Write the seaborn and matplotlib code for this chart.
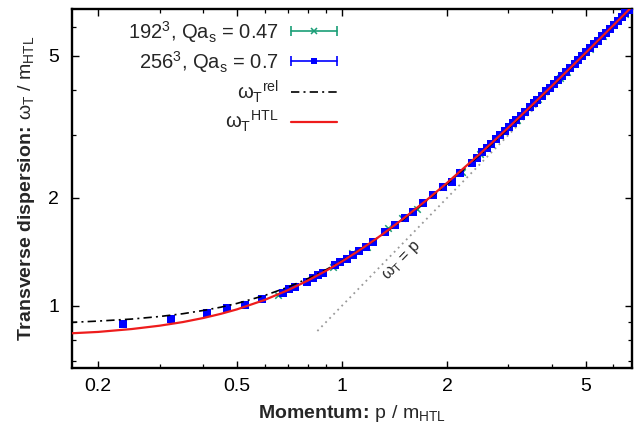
import matplotlib
matplotlib.use("Agg")
import matplotlib.pyplot as plt
import pandas as pd
import seaborn as sns
from matplotlib.lines import Line2D
from matplotlib.legend_handler import HandlerLine2D

# ---------------- data ----------------
p_256 = [0.235, 0.323, 0.411, 0.469, 0.527, 0.589, 0.679, 0.705, 0.734, 0.793,
         0.825, 0.855, 0.884, 0.955, 0.987, 1.032, 1.078, 1.12, 1.17, 1.23,
         1.328, 1.419, 1.516, 1.601, 1.711, 1.827, 1.951, 2.063, 2.179, 2.354,
         2.433, 2.52, 2.60, 2.67, 2.76, 2.84, 2.93, 3.01, 3.09, 3.16, 3.26,
         3.35, 3.45, 3.55, 3.63, 3.74, 3.85, 3.94, 4.05, 4.17, 4.28, 4.40,
         4.51, 4.64, 4.76, 4.88, 5.02, 5.15, 5.29, 5.42, 5.57, 5.71, 5.86,
         6.02, 6.17, 6.33, 6.49, 6.64]
w_256 = [0.887, 0.916, 0.954, 0.983, 1.005, 1.042, 1.083, 1.111, 1.128, 1.163,
         1.193, 1.218, 1.236, 1.299, 1.327, 1.348, 1.386, 1.420, 1.455, 1.504,
         1.603, 1.680, 1.754, 1.830, 1.932, 2.038, 2.150, 2.221, 2.344, 2.499,
         2.581, 2.691, 2.766, 2.832, 2.918, 2.994, 3.080, 3.157, 3.233, 3.300,
         3.397, 3.483, 3.580, 3.677, 3.755, 3.861, 3.968, 4.056, 4.163, 4.280,
         4.387, 4.505, 4.612, 4.740, 4.858, 4.975, 5.113, 5.240, 5.378, 5.506,
         5.654, 5.792, 5.940, 6.098, 6.246, 6.405, 6.563, 6.711]

p_192 = [0.656, 0.944, 1.066, 1.178, 1.355, 1.486, 1.64, 1.948, 2.208, 2.486,
         3.168, 3.646, 4.216, 4.406, 5.137, 5.598, 6.47]
w_192 = [1.071, 1.285, 1.401, 1.462, 1.645, 1.758, 1.862, 2.146, 2.363, 2.660,
         3.310, 3.770, 4.320, 4.510, 5.230, 5.680, 6.540]

p_htl = [0.165, 0.2, 0.25, 0.3, 0.35, 0.4, 0.45, 0.5, 0.6, 0.7, 0.8, 0.9, 1.0,
         1.1, 1.2, 1.3, 1.5, 1.75, 2.0, 2.5, 3.0, 3.5, 4.0, 5.0, 6.0, 7.0]
w_htl = [0.837, 0.845, 0.861, 0.8795, 0.9004, 0.924, 0.9495, 0.977, 1.038,
         1.1055, 1.177, 1.252, 1.330, 1.411, 1.494, 1.578, 1.752, 1.975, 2.204,
         2.671, 3.147, 3.629, 4.115, 5.093, 6.078, 7.067]

p_rel = [0.165, 0.2, 0.25, 0.3, 0.35, 0.4, 0.45, 0.5, 0.6, 0.7, 0.8, 0.9, 1.0,
         1.2, 1.5, 2.0, 2.5, 3.0, 4.0, 5.0, 6.0, 7.0]
w_rel = [0.898, 0.906, 0.918, 0.933, 0.950, 0.970, 0.991, 1.015, 1.068, 1.127,
         1.192, 1.261, 1.334, 1.490, 1.741, 2.186, 2.651, 3.127, 4.096, 5.077,
         6.065, 7.055]

p_free = [0.85, 7.0]
w_free = [0.85, 7.0]

x_major = [0.2, 0.5, 1, 2, 5]
x_major_labels = ["0.2", "0.5", "1", "2", "5"]
x_minor = [0.3, 0.4, 0.6, 0.7, 0.8, 0.9, 3, 4, 6]
y_major = [1, 2, 5]
y_major_labels = ["1", "2", "5"]
y_minor = [0.7, 0.8, 0.9, 3, 4, 6]

# ---------------- style ----------------
sns.set_theme(style="ticks")
plt.rcParams.update({
    "font.family": ["Liberation Sans", "DejaVu Sans"],
    "mathtext.fontset": "custom",
    "mathtext.rm": "Liberation Sans",
    "mathtext.bf": "Liberation Sans:bold",
    "mathtext.it": "Liberation Sans:italic",
    "mathtext.sf": "Liberation Sans",
})

green = "#1a9e77"
blue = "#0000ff"
red = "#ee1c1c"

fig = plt.figure(figsize=(6.34, 4.32), dpi=100)
ax = fig.add_axes([71.7 / 634, (432 - 368) / 432, (632 - 71.7) / 634, (368 - 9) / 432])
ax.set_xscale("log")
ax.set_yscale("log")

df192 = pd.DataFrame({"p": p_192, "w": w_192})
df256 = pd.DataFrame({"p": p_256, "w": w_256})
dfhtl = pd.DataFrame({"p": p_htl, "w": w_htl})
dfrel = pd.DataFrame({"p": p_rel, "w": w_rel})
dffree = pd.DataFrame({"p": p_free, "w": w_free})

sns.lineplot(data=dffree, x="p", y="w", ax=ax, color="#999999", lw=1.3,
             linestyle=(0, (1.0, 2.2)), sort=False, estimator=None, zorder=1)
sns.scatterplot(data=df192, x="p", y="w", ax=ax, color=green, marker="x",
                s=22, linewidth=1.1, zorder=2)
sns.scatterplot(data=df256, x="p", y="w", ax=ax, color=blue, marker="s",
                s=26, linewidth=0, zorder=3)
sns.lineplot(data=dfrel, x="p", y="w", ax=ax, color="black", lw=1.2,
             linestyle=(0, (5, 2.5, 1.2, 2.5)), sort=False, estimator=None, zorder=4)
sns.lineplot(data=dfhtl, x="p", y="w", ax=ax, color=red, lw=1.6,
             sort=False, estimator=None, zorder=5)

ax.set_xlim(0.168, 6.78)
ax.set_ylim(0.67, 6.745)

ax.set_xticks(x_major, labels=x_major_labels)
ax.set_xticks(x_minor, minor=True)
ax.set_xticklabels([], minor=True)
ax.set_yticks(y_major, labels=y_major_labels)
ax.set_yticks(y_minor, minor=True)
ax.set_yticklabels([], minor=True)

ax.tick_params(which="both", direction="in", top=True, right=True,
               colors="black", labelsize=14)
ax.tick_params(which="major", length=5, width=1.0)
ax.tick_params(which="minor", length=3, width=0.9)
ax.tick_params(axis="x", which="major", pad=7)
ax.tick_params(axis="y", which="major", pad=9)
for sp in ax.spines.values():
    sp.set_linewidth(1.7)
    sp.set_color("black")

ax.set_xlabel(r"$\mathbf{Momentum\!:\!}$ p / m$_\mathrm{HTL}$", fontsize=14, labelpad=6)
ax.set_ylabel(r"$\mathbf{Transverse\ dispersion\!:\!}$ ω$_\mathrm{T}$ / m$_\mathrm{HTL}$",
              fontsize=14, labelpad=8)

ax.text(1.48, 1.335, r"ω$_\mathrm{T}$ = p", rotation=45.7, fontsize=11.5,
        ha="center", va="center", rotation_mode="anchor")

# ---------------- legend (gnuplot style) ----------------
h192 = Line2D([], [], color=green, lw=1.2, marker="x", ms=4.5, mew=1.1)
c192 = Line2D([], [], color=green, lw=0, marker="|", ms=7, mew=1.2)
h256 = Line2D([], [], color=blue, lw=1.2, marker="s", ms=5, mew=0)
c256 = Line2D([], [], color=blue, lw=0, marker="|", ms=7, mew=1.2)
hrel = Line2D([], [], color="black", lw=1.2, linestyle=(0, (5, 2.5, 1.2, 2.5)))
hhtl = Line2D([], [], color=red, lw=1.6)

leg = ax.legend(
    [(h192, c192), (h256, c256), hrel, hhtl],
    [r"192$^3$, Qa$_\mathrm{s}$ = 0.47", r"256$^3$, Qa$_\mathrm{s}$ = 0.7",
     r"ω$_\mathrm{T}$$^\mathrm{rel}$", r"ω$_\mathrm{T}$$^\mathrm{HTL}$"],
    handler_map={c192: HandlerLine2D(numpoints=2, marker_pad=0),
                 c256: HandlerLine2D(numpoints=2, marker_pad=0)},
    loc="upper right", bbox_to_anchor=((337 - 71.7) / 560, 0.973),
    markerfirst=False, frameon=False, fontsize=14.5, handlelength=2.3,
    handletextpad=0.6, labelspacing=0.2, borderpad=0, borderaxespad=0,
)

fig.savefig("out.png", dpi=100)
